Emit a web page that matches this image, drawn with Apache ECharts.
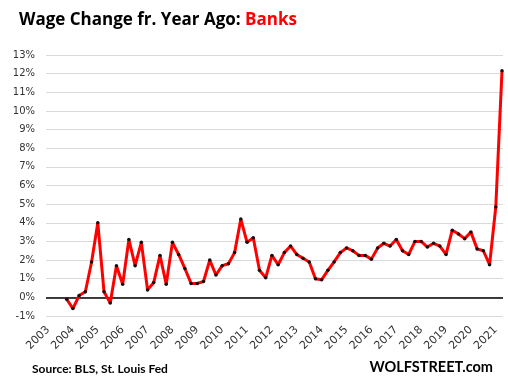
<!DOCTYPE html>
<html><head><meta charset="utf-8">
<script src="https://cdn.jsdelivr.net/npm/echarts@6/dist/echarts.min.js"></script>
<style>html,body{margin:0;padding:0;background:#fff}#c{width:508px;height:382px}</style>
</head><body><div id="c"></div>
<script>
// Quarterly observations, first = 2003 Q4 (index 0), last = 2021 Q2 (index 70)
const firstYear = 2003;
const firstQuarterOffset = 3; // index 0 is 4th quarter of 2003
const wageChange = [
 -0.1,-0.6,0.1,0.3,1.9,4.0,0.3,-0.3,1.7,0.7,
 3.1,1.7,2.95,0.4,0.8,2.25,0.7,2.95,2.3,1.55,
 0.75,0.75,0.85,2.0,1.2,1.7,1.8,2.4,4.2,2.95,
 3.2,1.45,1.05,2.25,1.75,2.4,2.75,2.3,2.1,1.9,
 1.0,0.95,1.45,1.9,2.4,2.65,2.5,2.25,2.25,2.05,
 2.65,2.9,2.75,3.1,2.5,2.3,3.0,3.0,2.7,2.9,
 2.75,2.3,3.6,3.4,3.15,3.5,2.6,2.5,1.75,4.85,
 12.15
];
const yearLabels = ['2003','2004','2005','2006','2007','2008','2009','2010','2011','2012','2013','2014','2015','2016','2017','2018','2019','2020','2021'];
const yTicks = [-1,0,1,2,3,4,5,6,7,8,9,10,11,12,13];

const seriesData = wageChange.map((v,i)=>[i,v]);
const labelPositions = yearLabels.map((y,k)=>k*4 - firstQuarterOffset);

const chart = echarts.init(document.getElementById('c'), null, {renderer:'canvas'});
chart.setOption({
  animation:false,
  backgroundColor:'#fff',
  title:{
    left:19, top:12, padding:0,
    text:'{a|Wage Change fr. Year Ago: }{b|Banks}',
    textStyle:{rich:{
      a:{fontFamily:'Open Sans',fontWeight:'bold',fontSize:17,color:'#000'},
      b:{fontFamily:'Open Sans',fontWeight:'bold',fontSize:17,color:'#ff0000'}
    }}
  },
  grid:{left:46,right:5,top:55,bottom:66,containLabel:false},
  xAxis:{
    type:'value',
    min:-3.33, max:70.16,
    axisLine:{show:false}, axisTick:{show:false}, splitLine:{show:false},
    axisLabel:{
      customValues:labelPositions,
      rotate:45, margin:12,
      fontFamily:'DejaVu Sans', fontSize:11, color:'#333',
      formatter:(v)=>String(firstYear + Math.round((v+firstQuarterOffset)/4))
    }
  },
  yAxis:{
    type:'value', min:yTicks[0], max:yTicks[yTicks.length-1], interval:1,
    axisLine:{show:false}, axisTick:{show:false},
    splitLine:{lineStyle:{color:'#d9d9d9',width:1}},
    axisLabel:{margin:11,fontFamily:'DejaVu Sans',fontSize:10,color:'#333',formatter:'{value}%'}
  },
  series:[{
    type:'line',
    data:seriesData,
    lineStyle:{color:'#ff0000',width:3},
    itemStyle:{color:'#111'},
    symbol:'circle', symbolSize:3.5, showSymbol:true,
    markLine:{silent:true,symbol:'none',label:{show:false},
      lineStyle:{color:'#000',width:1.5,type:'solid'},
      data:[{yAxis:0}], z:1}
  }],
  graphic:[
    {type:'text',left:32,top:363,style:{text:'Source: BLS, St. Louis Fed',font:'bold 12px Lato',fill:'#000'}},
    {type:'text',right:15,top:360,style:{text:'WOLFSTREET.com',font:'bold 14.5px Lato',fill:'#000'}}
  ]
});
</script></body></html>
